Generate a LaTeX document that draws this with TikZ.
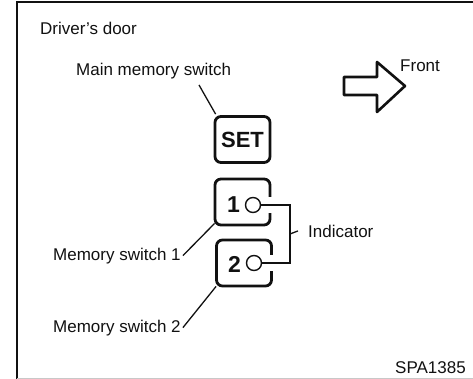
\documentclass[tikz,border=0pt]{standalone}
\usepackage{fontspec}
\setmainfont{Liberation Sans}
\usetikzlibrary{positioning,calc}
\definecolor{inkblk}{HTML}{111111}
\definecolor{rulegray}{HTML}{C8C8C8}
\tikzset{
  lbl/.style={font=\fontsize{17}{19}\selectfont, inner sep=0pt,
    anchor=base west, text=inkblk},
  swbox/.style={rectangle, rounded corners=6pt, draw=inkblk,
    line width=2.8pt, minimum width=55pt, minimum height=46pt,
    inner sep=0pt},
  swtext/.style={font=\fontsize{#1}{#1}\selectfont\bfseries,
    inner sep=0pt, text=inkblk},
  swtext/.default=23,
  lamp/.style={circle, draw=inkblk, line width=1.4pt, fill=white,
    minimum size=15pt, inner sep=0pt},
  leader/.style={draw=inkblk, line width=1.3pt},
  gapfill/.style={fill=white},
}
\begin{document}
\begin{tikzpicture}[x=1pt, y=-1pt]
  \useasboundingbox (0,0) rectangle (473,379);
  \draw[inkblk, line width=1.6pt] (17,379) -- (17,2) -- (473,2);
  \draw[rulegray, line width=0.8pt] (17,378) -- (473,378);

  \node[lbl] (door) at (40,35) {Driver's door};
  \node[lbl] (mainlbl) at (76,76) {Main memory switch};
  \node[lbl] (front) at (400,72) {Front};
  \node[lbl] (ms1) at (53,260) {Memory switch 1};
  \node[lbl] (ms2) at (53,332) {Memory switch 2};
  \node[lbl] (indlbl) at (308,237) {Indicator};
  \node[lbl] (code) at (395,373) {SPA1385};

  \node[swbox, swtext=22] (set) at (242.5,139.5) {SET};
  \node[swbox] (sw1) at (242.5,202) {};
  \node[swbox] (sw2) at (244,263) {};
  \node[swtext] (d1) at (233.5,205) {1};
  \node[swtext] (d2) at (234.5,264.5) {2};
  \node[lamp] (lamp1) at (253,205) {};
  \node[lamp] (lamp2) at (254,263) {};

  \fill[gapfill] ([xshift=-3pt]sw1.east |- lamp1.north)
    rectangle ([xshift=3pt]sw1.east |- lamp1.south);
  \fill[gapfill] ([xshift=-3pt]sw2.east |- lamp2.north)
    rectangle ([xshift=3pt]sw2.east |- lamp2.south);

  \coordinate (mm) at (199,85);
  \coordinate (ind) at (290,234);
  \draw[leader] (mm) -- ([shift={(2,-1)}]set.north west);
  \draw[leader] ([xshift=2pt]ms1.east) -- ([shift={(1,-3)}]sw1.south west);
  \draw[leader] ([xshift=2pt]ms2.east) -- ([shift={(1,-1)}]sw2.south west);
  \draw[leader] (lamp1.east) -| (ind) |- (lamp2.east);
  \draw[leader] (ind) -- ([xshift=-10pt]indlbl.west);

  \draw[inkblk, line width=2.6pt, line join=round]
    (344,77) -- (377,77) -- (377,62) -- (405,86) -- (377,112)
    -- (377,95) -- (344,95) -- cycle;
\end{tikzpicture}
\end{document}
